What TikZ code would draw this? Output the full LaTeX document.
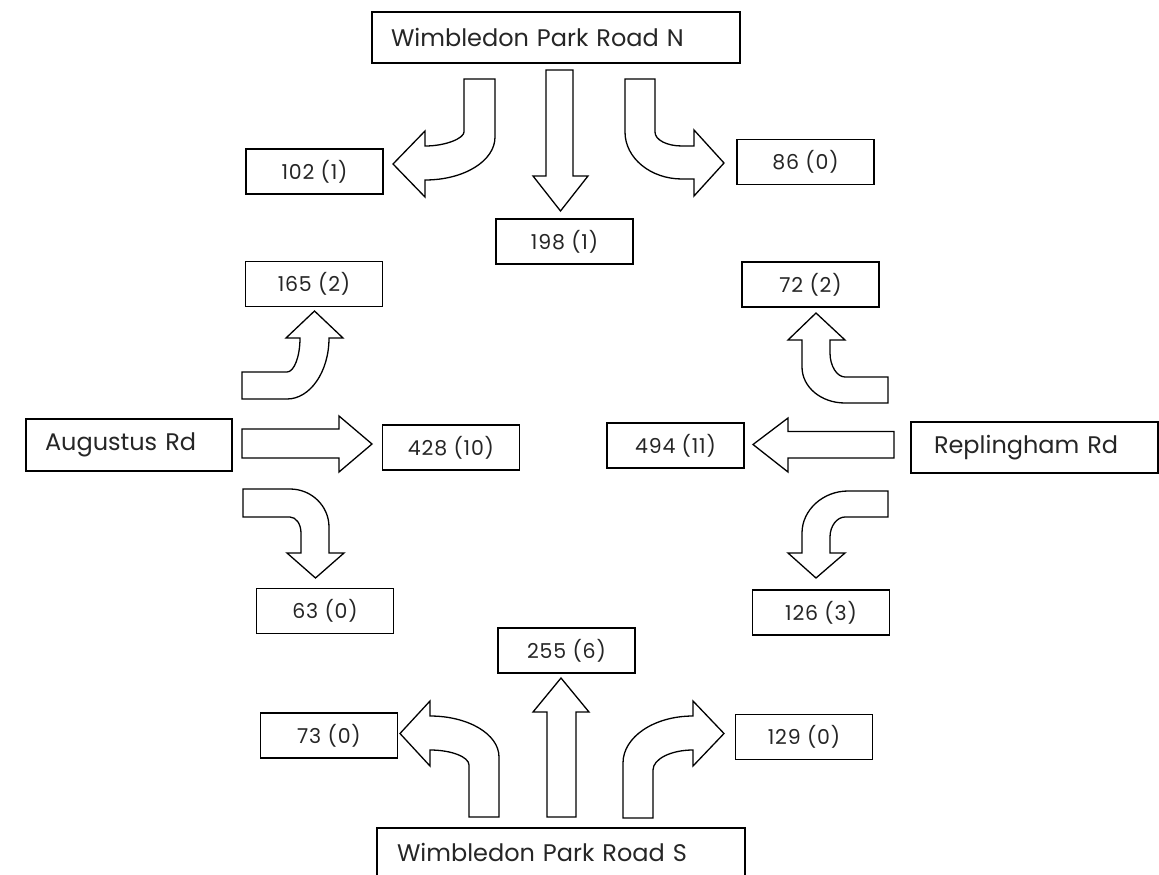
\documentclass[tikz,border=0pt]{standalone}
\usepackage{fontspec}
\setmainfont{Poppins}
\begin{document}
\begin{tikzpicture}[x=1pt,y=-1pt,
  roadbox/.style={draw, line width=1.5pt, inner xsep=19pt, inner ysep=0pt,
    align=left, font=\fontsize{24}{28}\selectfont, text=black!85},
  countbox/.style={draw, line width=1.5pt, inner sep=0pt,
    minimum width=137pt, minimum height=45pt,
    font=\fontsize{20.5}{24}\selectfont\addfontfeature{LetterSpace=4}, text=black!85},
  blockarrow/.style={draw, line width=1.3pt, fill=white, line join=miter}]
\useasboundingbox (0,0) rectangle (1159,875);
\clip (0,0) rectangle (1159,875);
\fill[white] (0,0) rectangle (1159,875);

% road name boxes
\node[roadbox, text width=330pt, minimum height=51pt] (roadN) at (556,37.5) {Wimbledon Park Road N};
\node[roadbox, text width=168pt, minimum height=52pt] (roadW) at (129,445) {Augustus Rd};
\node[roadbox, inner xsep=23pt, text width=201pt, minimum height=51pt] (roadE) at (1034.5,447.5) {Replingham Rd};
\node[roadbox, inner xsep=20pt, text width=328pt, minimum height=49pt] (roadS) at (561,852.5) {Wimbledon Park Road S};

% turning counts
\node[countbox] (n102) at (314.5,171.5) {102 (1)};
\node[countbox] (n86)  at (805.5,162)   {86 (0)};
\node[countbox] (n198) at (564.5,241.5) {198 (1)};
\node[countbox] (n165) at (314,284)     {165 (2)};
\node[countbox] (n72)  at (810.5,284.5) {72 (2)};
\node[countbox] (n428) at (451,447.5)   {428 (10)};
\node[countbox] (n494) at (675.5,445.5) {494 (11)};
\node[countbox] (n63)  at (325,611)     {63 (0)};
\node[countbox] (n126) at (821,612.5)   {126 (3)};
\node[countbox] (n255) at (566.5,650.5) {255 (6)};
\node[countbox] (n73)  at (329,735.5)   {73 (0)};
\node[countbox] (n129) at (804,737)     {129 (0)};

% movements from the north
\draw[blockarrow] (464,79) -- (495,79) -- (495,137)
  .. controls (495,161) and (464,180) .. (425,180) -- (425,197) -- (393,164)
  -- (425,131) -- (425,146) .. controls (446.5,146) and (464,138) .. (464,132) -- cycle;
\draw[blockarrow] (546,70) -- (573,70) -- (573,176) -- (588,176) -- (560.5,211)
  -- (533,176) -- (546,176) -- cycle;
\draw[blockarrow] (625,79) -- (655,79) -- (655,132)
  .. controls (655,140) and (667,146) .. (682,146) -- (694,146) -- (694,130)
  -- (724,163) -- (694,196) -- (694,179) -- (682,179)
  .. controls (650.5,179) and (625,158) .. (625,132) -- cycle;

% movements from the west
\draw[blockarrow] (242,399) -- (242,372) -- (287,372)
  .. controls (294,372) and (300,357) .. (300,338) -- (286,338) -- (314.5,311)
  -- (343,338) -- (329,338) .. controls (329,372) and (310,399) .. (287,399) -- cycle;
\draw[blockarrow] (242,429) -- (339,429) -- (339,416) -- (372,444) -- (339,472)
  -- (339,458) -- (242,458) -- cycle;
\draw[blockarrow] (243,489) -- (290,489) .. controls (311.5,489) and (329,506) .. (329,527)
  -- (329,553) -- (344,553) -- (315.5,578) -- (287,553) -- (301,553) -- (301,533)
  .. controls (301,524) and (296,517) .. (290,517) -- (243,517) -- cycle;

% movements from the east
\draw[blockarrow] (888,377) -- (888,403) -- (845,403)
  .. controls (821,403) and (802,387) .. (802,367) -- (802,340) -- (788,340)
  -- (816,313) -- (845,340) -- (830,340) -- (830,353)
  .. controls (830,366) and (837,377) .. (845,377) -- cycle;
\draw[blockarrow] (894,431.5) -- (894,458) -- (788,458) -- (788,472) -- (753,444.5)
  -- (788,418) -- (788,431.5) -- cycle;
\draw[blockarrow] (888,491) -- (888,517) -- (845,517)
  .. controls (837,517) and (830,526) .. (830,537) -- (830,553) -- (845,553)
  -- (816,578) -- (788,553) -- (802,553) -- (802,533)
  .. controls (802,510) and (823,491) .. (848,491) -- cycle;

% movements from the south
\draw[blockarrow] (469,817) -- (499,817) -- (499,757)
  .. controls (499,734) and (468,716) .. (430,716) -- (430,701) -- (400,733.5)
  -- (430,766) -- (430,750) .. controls (451.5,750) and (469,757) .. (469,765) -- cycle;
\draw[blockarrow] (547,817) -- (576,817) -- (576,712) -- (589,712) -- (561,678)
  -- (533,712) -- (547,712) -- cycle;
\draw[blockarrow] (623,818) -- (623,763)
  .. controls (623,737) and (654,716) .. (693,716) -- (693,701) -- (724,733.5)
  -- (693,766) -- (693,750) .. controls (671,750) and (653,759) .. (653,770)
  -- (653,818) -- cycle;
\end{tikzpicture}
\end{document}
